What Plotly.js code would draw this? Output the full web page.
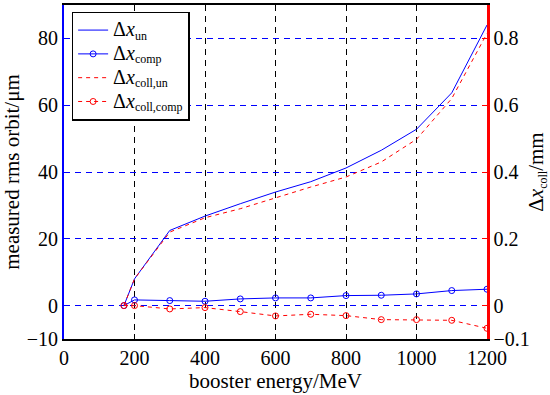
<!DOCTYPE html>
<html>
<head>
<meta charset="utf-8">
<script src="https://cdn.plot.ly/plotly-3.0.1.min.js"></script>
<style>html,body{margin:0;padding:0;background:#fff;}#chart{width:550px;height:395px;}</style>
</head>
<body>
<div id="chart"></div>
<script>
const energy = [170, 200, 300, 400, 500, 600, 700, 800, 900, 1000, 1100, 1200];
const dxUn = [0, 8, 22.5, 26.8, 30.5, 34, 37.1, 41.2, 46.5, 52.8, 63.7, 84];
const dxComp = [0, 1.7, 1.5, 1.3, 2.0, 2.3, 2.3, 3.0, 3.1, 3.5, 4.5, 4.9];
const dxCollUn = [0, 0.08, 0.22, 0.263, 0.29, 0.323, 0.355, 0.385, 0.43, 0.498, 0.62, 0.815];
const dxCollComp = [0, 0.0, -0.010, -0.006, -0.018, -0.031, -0.026, -0.030, -0.042, -0.042, -0.044, -0.068];
const xTicks = [0, 200, 400, 600, 800, 1000, 1200];
const yTicks = [-10, 0, 20, 40, 60, 80];
const y2Ticks = [-0.1, 0, 0.2, 0.4, 0.6, 0.8];

const blue = '#0000ff', red = '#ff0000';
const font = {family: '"Liberation Serif", "Times New Roman", Times, serif', color: '#000'};
const sub = s => '<sub><span style="font-size:12px">' + s + '</span></sub>';
const lead = '<span style="font-size:20px">Δ<i>x</i></span>';

const traces = [
  {x: energy, y: dxUn, mode: 'lines', name: lead + sub('un'),
   line: {color: blue, width: 1}, yaxis: 'y'},
  {x: energy, y: dxComp, mode: 'lines+markers', name: lead + sub('comp'),
   line: {color: blue, width: 1}, marker: {symbol: 'circle-open', size: 6, color: blue, line: {width: 1}}, yaxis: 'y'},
  {x: energy, y: dxCollUn, mode: 'lines', name: lead + sub('coll,un'),
   line: {color: red, width: 1, dash: '4px,4px'}, yaxis: 'y2'},
  {x: energy, y: dxCollComp, mode: 'lines+markers', name: lead + sub('coll,comp'),
   line: {color: red, width: 1, dash: '4px,4px'}, marker: {symbol: 'circle-open', size: 6, color: red, line: {width: 1}}, yaxis: 'y2'}
];

const layout = {
  width: 550, height: 395,
  margin: {l: 64, r: 63, t: 5, b: 56},
  paper_bgcolor: '#fff', plot_bgcolor: '#fff',
  font: Object.assign({size: 20}, font),
  showlegend: true,
  legend: {x: 0.018, y: 0.98, xanchor: 'left', yanchor: 'top', bgcolor: '#fff',
           bordercolor: '#000', borderwidth: 1.5, font: Object.assign({size: 16}, font),
           tracegroupgap: 0, itemwidth: 30},
  xaxis: {range: [0, 1200], tickvals: xTicks, ticktext: xTicks.map(String),
          showline: true, linecolor: '#000', linewidth: 2, mirror: 'ticks',
          ticks: 'inside', ticklen: 5, tickcolor: '#000',
          showgrid: true, gridcolor: '#000', griddash: '6px,5px', gridwidth: 1,
          zeroline: false, tickfont: Object.assign({size: 20}, font),
          title: {text: 'booster energy/MeV', font: Object.assign({size: 21}, font), standoff: 2}},
  yaxis: {range: [-10, 90], tickvals: yTicks, ticktext: ['−10', '0', '20', '40', '60', '80'],
          showline: true, linecolor: blue, linewidth: 2,
          ticks: 'inside', ticklen: 5, tickcolor: blue,
          showgrid: true, gridcolor: blue, griddash: '6px,5px', gridwidth: 1,
          zeroline: false, tickfont: Object.assign({size: 20}, font),
          title: {text: 'measured rms orbit/μm', font: Object.assign({size: 21}, font), standoff: 2}},
  yaxis2: {range: [-0.1, 0.9], tickvals: y2Ticks, ticktext: ['−0.1', '0', '0.2', '0.4', '0.6', '0.8'],
           overlaying: 'y', side: 'right', showline: true, linecolor: red, linewidth: 2.5,
           ticks: 'inside', ticklen: 5, tickcolor: red, showgrid: false, zeroline: false,
           tickfont: Object.assign({size: 20}, font),
           title: {text: 'Δ<i>x</i>' + sub('coll') + '/mm', font: Object.assign({size: 21}, font), standoff: 4}}
};

Plotly.newPlot('chart', traces, layout, {displayModeBar: false, staticPlot: true});
</script>
</body>
</html>
